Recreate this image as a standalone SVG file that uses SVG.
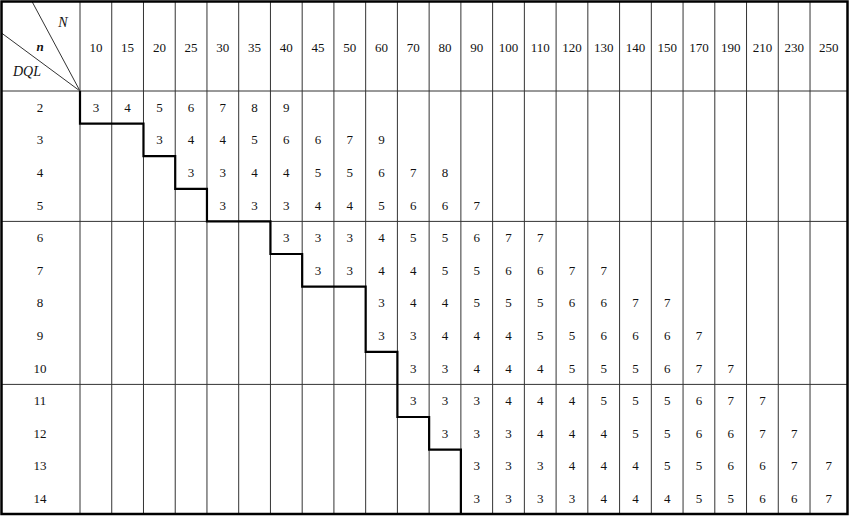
<svg xmlns="http://www.w3.org/2000/svg" width="850" height="517" viewBox="0 0 850 517">
<style>
.g{stroke:#333;stroke-width:1;fill:none}
.o{stroke:#000;stroke-width:2.5;fill:none}
.s{stroke:#000;stroke-width:2.2;fill:none}
text{font-family:"Liberation Serif","DejaVu Serif",serif;font-size:13px;fill:#111;text-anchor:middle}
.it{font-style:italic;font-size:14px}
.bi{font-style:italic;font-weight:bold;font-size:13px}
</style>
<rect width="850" height="517" fill="#fff"/>
<g id="grid">
<g class="g">
<line x1="80" y1="1.5" x2="80" y2="514"/>
<line x1="111.74" y1="1.5" x2="111.74" y2="514"/>
<line x1="143.48" y1="1.5" x2="143.48" y2="514"/>
<line x1="175.22" y1="1.5" x2="175.22" y2="514"/>
<line x1="206.96" y1="1.5" x2="206.96" y2="514"/>
<line x1="238.7" y1="1.5" x2="238.7" y2="514"/>
<line x1="270.44" y1="1.5" x2="270.44" y2="514"/>
<line x1="302.18" y1="1.5" x2="302.18" y2="514"/>
<line x1="333.92" y1="1.5" x2="333.92" y2="514"/>
<line x1="365.66" y1="1.5" x2="365.66" y2="514"/>
<line x1="397.4" y1="1.5" x2="397.4" y2="514"/>
<line x1="429.14" y1="1.5" x2="429.14" y2="514"/>
<line x1="460.88" y1="1.5" x2="460.88" y2="514"/>
<line x1="492.62" y1="1.5" x2="492.62" y2="514"/>
<line x1="524.36" y1="1.5" x2="524.36" y2="514"/>
<line x1="556.1" y1="1.5" x2="556.1" y2="514"/>
<line x1="587.84" y1="1.5" x2="587.84" y2="514"/>
<line x1="619.58" y1="1.5" x2="619.58" y2="514"/>
<line x1="651.32" y1="1.5" x2="651.32" y2="514"/>
<line x1="683.06" y1="1.5" x2="683.06" y2="514"/>
<line x1="714.8" y1="1.5" x2="714.8" y2="514"/>
<line x1="746.54" y1="1.5" x2="746.54" y2="514"/>
<line x1="778.28" y1="1.5" x2="778.28" y2="514"/>
<line x1="810.02" y1="1.5" x2="810.02" y2="514"/>
<line x1="1.5" y1="91" x2="847.5" y2="91"/>
<line x1="1.5" y1="221.4" x2="847.5" y2="221.4"/>
<line x1="1.5" y1="384.4" x2="847.5" y2="384.4"/>
<line x1="32" y1="1.5" x2="80" y2="91"/>
<line x1="1.5" y1="33" x2="80" y2="91"/>
</g>
<rect class="o" x="1.5" y="1.5" width="846" height="512.5"/>
<path class="s" d="M80,91 V123.6 H143.48 V156.2 H175.22 V188.8 H206.96 V221.4 H270.44 V254 H302.18 V286.6 H365.66 V351.8 H397.4 V417 H429.14 V449.6 H460.88 V514"/>
</g>
<g id="header">
<text class="it" x="63" y="27">N</text>
<text class="bi" x="40" y="51">n</text>
<text class="it" x="27" y="76">DQL</text>
<text x="95.9" y="51.5">10</text>
<text x="127.6" y="51.5">15</text>
<text x="159.4" y="51.5">20</text>
<text x="191.1" y="51.5">25</text>
<text x="222.8" y="51.5">30</text>
<text x="254.6" y="51.5">35</text>
<text x="286.3" y="51.5">40</text>
<text x="318.1" y="51.5">45</text>
<text x="349.8" y="51.5">50</text>
<text x="381.5" y="51.5">60</text>
<text x="413.3" y="51.5">70</text>
<text x="445" y="51.5">80</text>
<text x="476.8" y="51.5">90</text>
<text x="508.5" y="51.5">100</text>
<text x="540.2" y="51.5">110</text>
<text x="572" y="51.5">120</text>
<text x="603.7" y="51.5">130</text>
<text x="635.5" y="51.5">140</text>
<text x="667.2" y="51.5">150</text>
<text x="698.9" y="51.5">170</text>
<text x="730.7" y="51.5">190</text>
<text x="762.4" y="51.5">210</text>
<text x="794.2" y="51.5">230</text>
<text x="828.8" y="51.5">250</text>
</g>
<g id="rowlabels">
<text x="40" y="111.8">2</text>
<text x="40" y="144.4">3</text>
<text x="40" y="177">4</text>
<text x="40" y="209.6">5</text>
<text x="40" y="242.2">6</text>
<text x="40" y="274.8">7</text>
<text x="40" y="307.4">8</text>
<text x="40" y="340">9</text>
<text x="40" y="372.6">10</text>
<text x="40" y="405.2">11</text>
<text x="40" y="437.8">12</text>
<text x="40" y="470.4">13</text>
<text x="40" y="503">14</text>
</g>
<g id="values">
<g id="r2">
<text x="95.9" y="111.8">3</text><text x="127.6" y="111.8">4</text><text x="159.4" y="111.8">5</text><text x="191.1" y="111.8">6</text><text x="222.8" y="111.8">7</text><text x="254.6" y="111.8">8</text><text x="286.3" y="111.8">9</text>
</g>
<g id="r3">
<text x="159.4" y="144.4">3</text><text x="191.1" y="144.4">4</text><text x="222.8" y="144.4">4</text><text x="254.6" y="144.4">5</text><text x="286.3" y="144.4">6</text><text x="318.1" y="144.4">6</text><text x="349.8" y="144.4">7</text><text x="381.5" y="144.4">9</text>
</g>
<g id="r4">
<text x="191.1" y="177">3</text><text x="222.8" y="177">3</text><text x="254.6" y="177">4</text><text x="286.3" y="177">4</text><text x="318.1" y="177">5</text><text x="349.8" y="177">5</text><text x="381.5" y="177">6</text><text x="413.3" y="177">7</text><text x="445" y="177">8</text>
</g>
<g id="r5">
<text x="222.8" y="209.6">3</text><text x="254.6" y="209.6">3</text><text x="286.3" y="209.6">3</text><text x="318.1" y="209.6">4</text><text x="349.8" y="209.6">4</text><text x="381.5" y="209.6">5</text><text x="413.3" y="209.6">6</text><text x="445" y="209.6">6</text><text x="476.8" y="209.6">7</text>
</g>
<g id="r6">
<text x="286.3" y="242.2">3</text><text x="318.1" y="242.2">3</text><text x="349.8" y="242.2">3</text><text x="381.5" y="242.2">4</text><text x="413.3" y="242.2">5</text><text x="445" y="242.2">5</text><text x="476.8" y="242.2">6</text><text x="508.5" y="242.2">7</text><text x="540.2" y="242.2">7</text>
</g>
<g id="r7">
<text x="318.1" y="274.8">3</text><text x="349.8" y="274.8">3</text><text x="381.5" y="274.8">4</text><text x="413.3" y="274.8">4</text><text x="445" y="274.8">5</text><text x="476.8" y="274.8">5</text><text x="508.5" y="274.8">6</text><text x="540.2" y="274.8">6</text><text x="572" y="274.8">7</text><text x="603.7" y="274.8">7</text>
</g>
<g id="r8">
<text x="381.5" y="307.4">3</text><text x="413.3" y="307.4">4</text><text x="445" y="307.4">4</text><text x="476.8" y="307.4">5</text><text x="508.5" y="307.4">5</text><text x="540.2" y="307.4">5</text><text x="572" y="307.4">6</text><text x="603.7" y="307.4">6</text><text x="635.5" y="307.4">7</text><text x="667.2" y="307.4">7</text>
</g>
<g id="r9">
<text x="381.5" y="340">3</text><text x="413.3" y="340">3</text><text x="445" y="340">4</text><text x="476.8" y="340">4</text><text x="508.5" y="340">4</text><text x="540.2" y="340">5</text><text x="572" y="340">5</text><text x="603.7" y="340">6</text><text x="635.5" y="340">6</text><text x="667.2" y="340">6</text><text x="698.9" y="340">7</text>
</g>
<g id="r10">
<text x="413.3" y="372.6">3</text><text x="445" y="372.6">3</text><text x="476.8" y="372.6">4</text><text x="508.5" y="372.6">4</text><text x="540.2" y="372.6">4</text><text x="572" y="372.6">5</text><text x="603.7" y="372.6">5</text><text x="635.5" y="372.6">5</text><text x="667.2" y="372.6">6</text><text x="698.9" y="372.6">7</text><text x="730.7" y="372.6">7</text>
</g>
<g id="r11">
<text x="413.3" y="405.2">3</text><text x="445" y="405.2">3</text><text x="476.8" y="405.2">3</text><text x="508.5" y="405.2">4</text><text x="540.2" y="405.2">4</text><text x="572" y="405.2">4</text><text x="603.7" y="405.2">5</text><text x="635.5" y="405.2">5</text><text x="667.2" y="405.2">5</text><text x="698.9" y="405.2">6</text><text x="730.7" y="405.2">7</text><text x="762.4" y="405.2">7</text>
</g>
<g id="r12">
<text x="445" y="437.8">3</text><text x="476.8" y="437.8">3</text><text x="508.5" y="437.8">3</text><text x="540.2" y="437.8">4</text><text x="572" y="437.8">4</text><text x="603.7" y="437.8">4</text><text x="635.5" y="437.8">5</text><text x="667.2" y="437.8">5</text><text x="698.9" y="437.8">6</text><text x="730.7" y="437.8">6</text><text x="762.4" y="437.8">7</text><text x="794.2" y="437.8">7</text>
</g>
<g id="r13">
<text x="476.8" y="470.4">3</text><text x="508.5" y="470.4">3</text><text x="540.2" y="470.4">3</text><text x="572" y="470.4">4</text><text x="603.7" y="470.4">4</text><text x="635.5" y="470.4">4</text><text x="667.2" y="470.4">5</text><text x="698.9" y="470.4">5</text><text x="730.7" y="470.4">6</text><text x="762.4" y="470.4">6</text><text x="794.2" y="470.4">7</text><text x="828.8" y="470.4">7</text>
</g>
<g id="r14">
<text x="476.8" y="503">3</text><text x="508.5" y="503">3</text><text x="540.2" y="503">3</text><text x="572" y="503">3</text><text x="603.7" y="503">4</text><text x="635.5" y="503">4</text><text x="667.2" y="503">4</text><text x="698.9" y="503">5</text><text x="730.7" y="503">5</text><text x="762.4" y="503">6</text><text x="794.2" y="503">6</text><text x="828.8" y="503">7</text>
</g>
</g>
</svg>
